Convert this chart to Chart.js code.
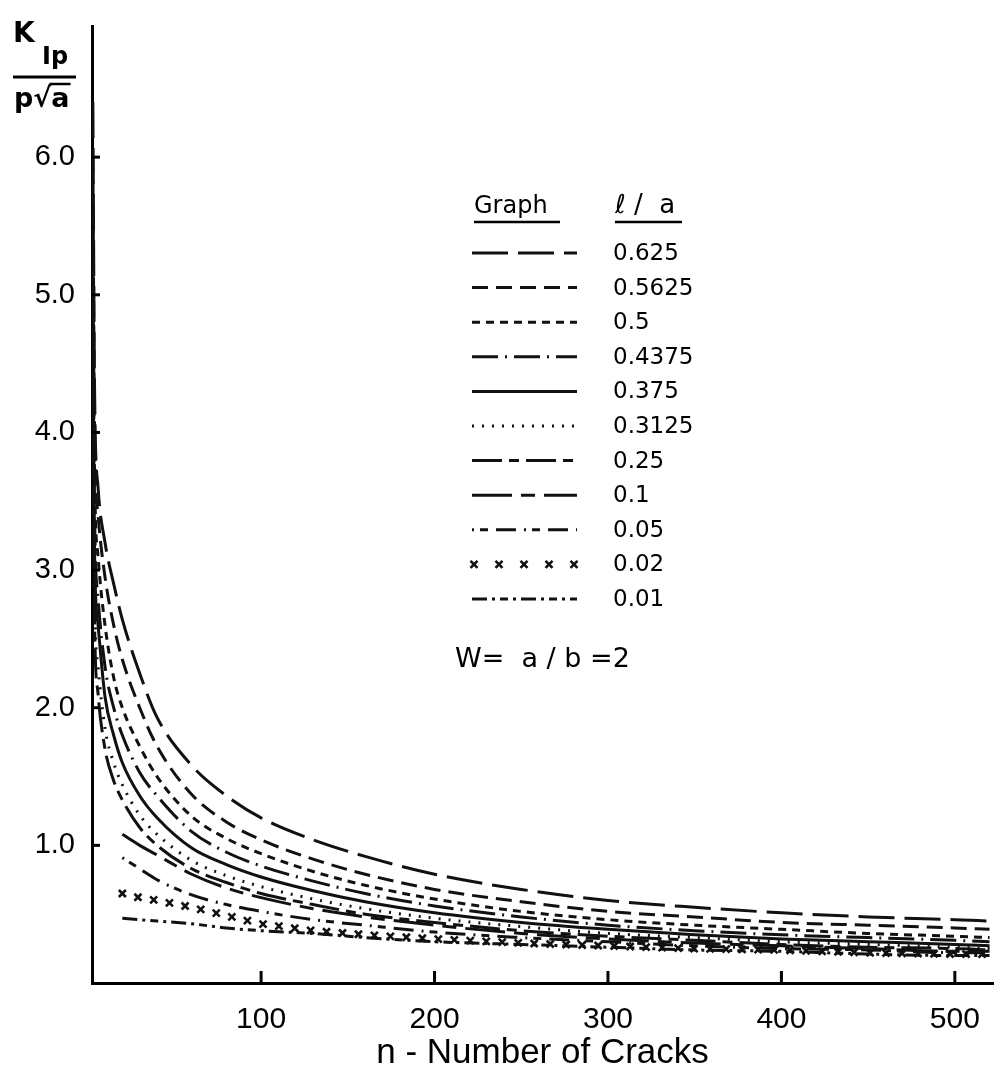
<!DOCTYPE html>
<html>
<head>
<meta charset="utf-8">
<script src="https://cdn.jsdelivr.net/npm/chart.js@4.4.0/dist/chart.umd.min.js"></script>
<style>
  html, body { margin: 0; padding: 0; background: #fff; }
  canvas { display: block; }
</style>
</head>
<body>
<canvas id="chart" width="998" height="1077"></canvas>
<script>
// n - number of cracks (sample points)
const nValues = [3, 4, 6, 10, 15, 20, 30, 40, 60, 80, 100, 130, 160, 200, 250, 300, 350, 400, 450, 500, 520];

// K_Ip / (p sqrt a) for each l/a
const k0625  = [6.4, 4.3, 3.6, 3.2, 2.9, 2.64, 2.25, 1.93, 1.58, 1.36, 1.2, 1.04, 0.92, 0.79, 0.68, 0.6, 0.55, 0.51, 0.48, 0.46, 0.45];
const k05625 = [6.0, 4.0, 3.4, 2.95, 2.6, 2.35, 2.0, 1.72, 1.37, 1.17, 1.04, 0.9, 0.79, 0.68, 0.59, 0.52, 0.48, 0.44, 0.42, 0.4, 0.39];
const k05    = [5.6, 3.7, 3.1, 2.6, 2.22, 2.0, 1.72, 1.5, 1.21, 1.05, 0.94, 0.81, 0.71, 0.61, 0.52, 0.46, 0.42, 0.39, 0.36, 0.34, 0.33];
const k04375 = [5.2, 3.4, 2.8, 2.3, 2.0, 1.8, 1.53, 1.36, 1.1, 0.95, 0.85, 0.74, 0.65, 0.56, 0.48, 0.42, 0.38, 0.35, 0.33, 0.31, 0.3];
const k0375  = [4.8, 3.1, 2.6, 2.08, 1.8, 1.6, 1.36, 1.2, 0.98, 0.86, 0.77, 0.67, 0.59, 0.51, 0.44, 0.39, 0.35, 0.32, 0.3, 0.28, 0.27];
const k03125 = [4.4, 2.8, 2.3, 1.85, 1.6, 1.44, 1.22, 1.08, 0.89, 0.78, 0.7, 0.61, 0.54, 0.47, 0.41, 0.36, 0.33, 0.3, 0.28, 0.26, 0.25];
const k025   = [4.0, 2.6, 2.1, 1.7, 1.47, 1.33, 1.13, 1.0, 0.83, 0.73, 0.65, 0.57, 0.5, 0.44, 0.38, 0.34, 0.31, 0.28, 0.26, 0.25, 0.24];
const k01    = [null, null, null, null, null, 1.08, 1.0, 0.93, 0.79, 0.69, 0.62, 0.54, 0.48, 0.42, 0.36, 0.32, 0.29, 0.27, 0.25, 0.23, 0.23];
const k005   = [null, null, null, null, null, 0.91, 0.83, 0.75, 0.64, 0.57, 0.52, 0.46, 0.42, 0.37, 0.33, 0.3, 0.27, 0.25, 0.24, 0.22, 0.22];
const k002   = [null, null, null, null, null, 0.65, 0.62, 0.6, 0.55, 0.49, 0.43, 0.38, 0.35, 0.32, 0.29, 0.27, 0.25, 0.24, 0.22, 0.21, 0.21];
const k001   = [null, null, null, null, null, 0.47, 0.46, 0.45, 0.43, 0.4, 0.38, 0.36, 0.33, 0.3, 0.28, 0.26, 0.24, 0.23, 0.21, 0.2, 0.2];

const ratioLabels = ["0.625", "0.5625", "0.5", "0.4375", "0.375", "0.3125", "0.25", "0.1", "0.05", "0.02", "0.01"];
const seriesValues = [k0625, k05625, k05, k04375, k0375, k03125, k025, k01, k005, k002, k001];
const dashes = [
  [36, 10], [16, 8], [8, 6], [26, 7, 2, 7], [], [2, 8], [30, 7, 10, 7],
  [40, 9, 14, 9], [2, 6, 8, 8, 20, 8], null, [15, 5, 3, 5, 8, 5, 3, 5]
];
const xTicks = [100, 200, 300, 400, 500];
const yTicks = [1, 2, 3, 4, 5, 6];

const axisFont = "'Liberation Sans', Arial, sans-serif";
const wide = "'DejaVu Sans', sans-serif";

const datasets = seriesValues.map((vals, i) => ({
  label: ratioLabels[i],
  data: nValues.map((n, j) => ({ x: n, y: vals[j] })),
  borderColor: "#111",
  borderWidth: dashes[i] ? 3 : 0,
  borderDash: dashes[i] || [],
  crossMarks: dashes[i] === null,
  showLine: dashes[i] !== null,
  pointRadius: 0,
  fill: false,
  spanGaps: false,
  cubicInterpolationMode: "monotone"
}));

function cross(ctx, x, y, s) {
  ctx.beginPath();
  ctx.moveTo(x - s, y - s); ctx.lineTo(x + s, y + s);
  ctx.moveTo(x + s, y - s); ctx.lineTo(x - s, y + s);
  ctx.stroke();
}

// x marks along the l/a = 0.02 curve
const crossPlugin = {
  id: "crossMarks",
  afterDatasetsDraw(chart) {
    const ctx = chart.ctx;
    chart.data.datasets.forEach((ds, i) => {
      if (!ds.crossMarks) return;
      const pts = chart.getDatasetMeta(i).data.filter(p => !p.skip);
      ctx.save();
      ctx.strokeStyle = "#111";
      ctx.lineWidth = 2.6;
      const step = 16;
      let carry = 0;
      for (let k = 1; k < pts.length; k++) {
        const a = pts[k - 1], b = pts[k];
        const dx = b.x - a.x, dy = b.y - a.y, len = Math.hypot(dx, dy);
        let d = carry;
        while (d <= len) {
          const t = d / len;
          cross(ctx, a.x + dx * t, a.y + dy * t, 3.5);
          d += step;
        }
        carry = d - len;
      }
      ctx.restore();
    });
  }
};

// inward tick marks, y title fraction, legend table and note
const decorPlugin = {
  id: "decor",
  afterDraw(chart) {
    const ctx = chart.ctx;
    const xs = chart.scales.x, ys = chart.scales.y;
    const area = chart.chartArea;
    ctx.save();
    ctx.strokeStyle = "#000";
    ctx.fillStyle = "#000";
    ctx.lineWidth = 3;
    yTicks.forEach(v => {
      const py = ys.getPixelForValue(v);
      ctx.beginPath(); ctx.moveTo(area.left, py); ctx.lineTo(area.left + 8, py); ctx.stroke();
    });
    xTicks.forEach(v => {
      const px = xs.getPixelForValue(v);
      ctx.beginPath(); ctx.moveTo(px, area.bottom); ctx.lineTo(px, area.bottom - 12); ctx.stroke();
    });

    // y axis title: K_Ip over p sqrt(a)
    ctx.textBaseline = "alphabetic";
    ctx.textAlign = "left";
    ctx.font = "bold 28px " + wide;
    ctx.fillText("K", 13, 42);
    ctx.font = "bold 24px " + wide;
    ctx.fillText("Ip", 42, 64);
    ctx.lineWidth = 3;
    ctx.beginPath(); ctx.moveTo(13, 77); ctx.lineTo(76, 77); ctx.stroke();
    ctx.font = "bold 27px " + wide;
    const pw = ctx.measureText("p").width;
    const rw = ctx.measureText("\u221A").width;
    const aw = ctx.measureText("a").width;
    ctx.fillText("p\u221Aa", 14, 107);
    ctx.lineWidth = 2.5;
    ctx.beginPath(); ctx.moveTo(14 + pw + rw - 2, 84); ctx.lineTo(14 + pw + rw + aw + 1, 84); ctx.stroke();

    // legend
    ctx.font = "24px " + wide;
    ctx.fillText("Graph", 474, 213);
    ctx.font = "26px " + wide;
    ctx.fillText("\u2113 /  a", 615, 213);
    ctx.lineWidth = 2.5;
    ctx.beginPath(); ctx.moveTo(474, 222); ctx.lineTo(560, 222); ctx.stroke();
    ctx.beginPath(); ctx.moveTo(615, 222); ctx.lineTo(682, 222); ctx.stroke();
    ctx.textBaseline = "middle";
    ctx.font = "23px " + wide;
    chart.data.datasets.forEach((ds, i) => {
      const y = 253 + i * 34.6;
      ctx.strokeStyle = "#111";
      if (ds.crossMarks) {
        ctx.lineWidth = 2.6;
        for (let k = 0; k < 5; k++) cross(ctx, 474 + k * 25, y, 3.5);
      } else {
        ctx.lineWidth = 3;
        ctx.setLineDash(ds.borderDash);
        ctx.beginPath(); ctx.moveTo(472, y); ctx.lineTo(577, y); ctx.stroke();
        ctx.setLineDash([]);
      }
      ctx.fillText(ds.label, 613, y + 1);
    });

    ctx.font = "27px " + wide;
    ctx.fillText("W=  a / b =2", 455, 660);
    ctx.restore();
  }
};

new Chart(document.getElementById("chart"), {
  type: "line",
  data: { datasets },
  options: {
    responsive: false,
    animation: false,
    devicePixelRatio: 1,
    layout: { padding: { top: 10, right: 5, left: 0, bottom: 0 } },
    plugins: { legend: { display: false }, tooltip: { enabled: false } },
    scales: {
      x: {
        type: "linear",
        min: 2.5,
        max: 522,
        afterFit: s => { s.height = 94; },
        afterBuildTicks: s => { s.ticks = xTicks.map(v => ({ value: v })); },
        grid: { display: false },
        border: { display: true, color: "#000", width: 3 },
        ticks: { color: "#000", padding: 11, font: { family: axisFont, size: 30 }, maxRotation: 0 },
        title: {
          display: true, text: "n - Number of Cracks", color: "#000",
          font: { family: axisFont, size: 35 }, padding: { top: 0, bottom: 3 }
        }
      },
      y: {
        type: "linear",
        min: 0,
        max: 6.95,
        afterFit: s => { s.width = 92; },
        afterBuildTicks: s => { s.ticks = yTicks.map(v => ({ value: v })); },
        grid: { display: false },
        border: { display: true, color: "#000", width: 3 },
        ticks: { color: "#000", padding: 9, font: { family: axisFont, size: 29 }, callback: v => v.toFixed(1) }
      }
    }
  },
  plugins: [crossPlugin, decorPlugin]
});
</script>
</body>
</html>
